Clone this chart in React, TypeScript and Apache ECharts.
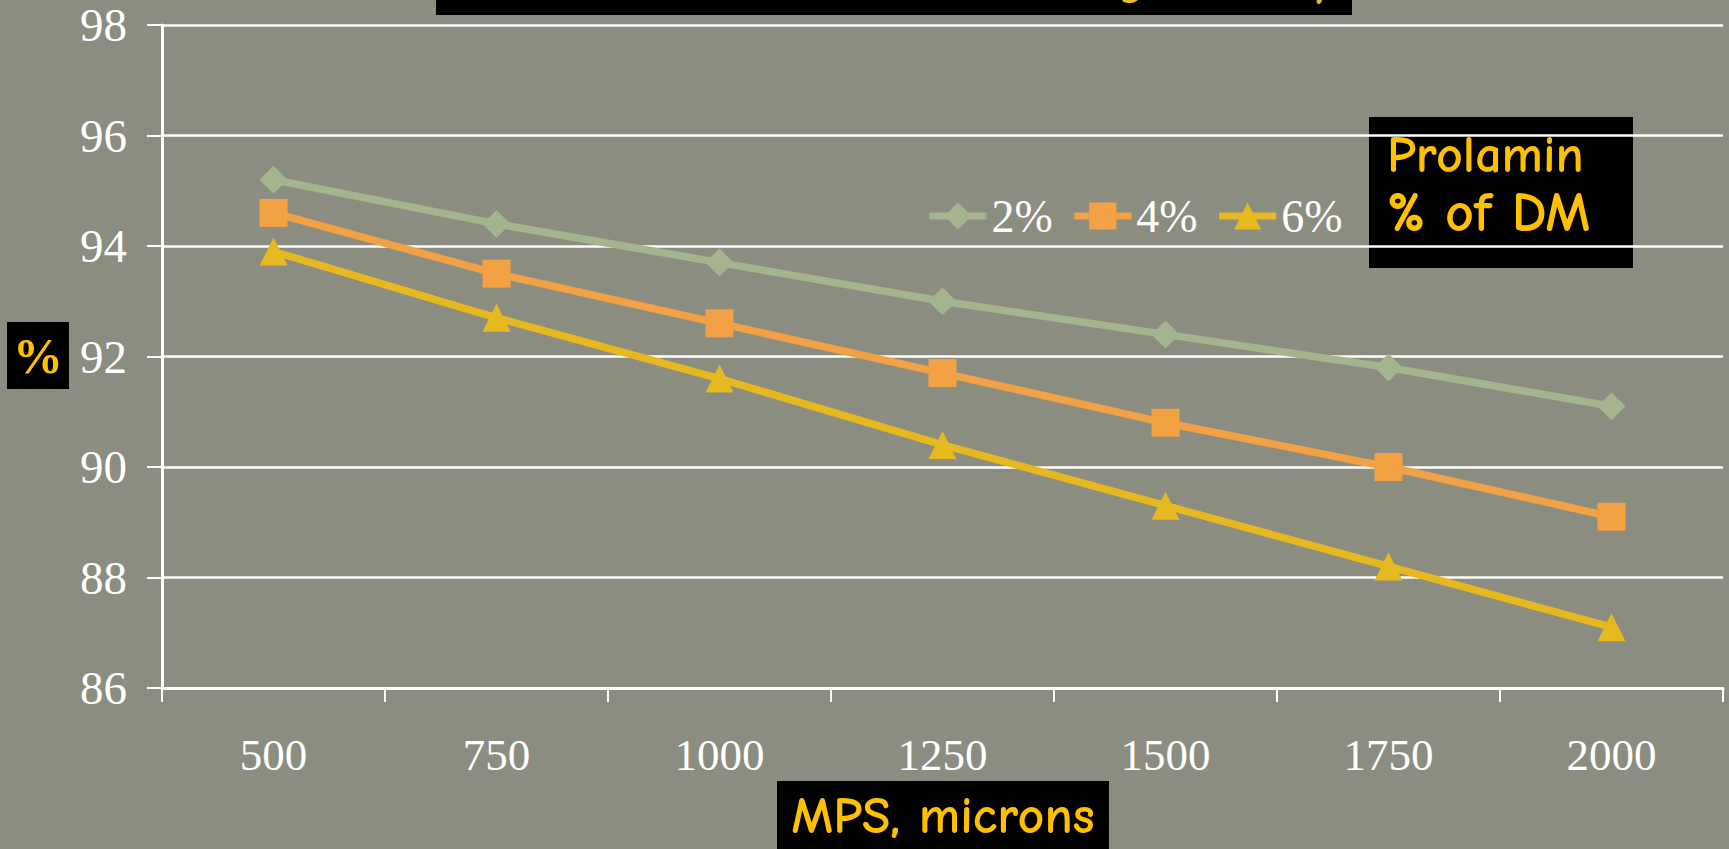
import React, { useEffect, useRef } from 'react';
import * as echarts from 'echarts';

const categories = ['500', '750', '1000', '1250', '1500', '1750', '2000'];
const seriesNames = ['2%', '4%', '6%'];
const values2 = [95.2, 94.4, 93.7, 93.0, 92.4, 91.8, 91.1];
const values4 = [94.6, 93.5, 92.6, 91.7, 90.8, 90.0, 89.1];
const values6 = [93.9, 92.7, 91.6, 90.4, 89.3, 88.2, 87.1];
const yMin = 86;
const yMax = 98;
const yStep = 2;

const titleText = 'Ruminal Starch Degradability';
const legendBoxLines = ['Prolamin', '% of DM'];
const xName = 'MPS, microns';
const yName = '%';

const BG = '#8a8d80';
const GOLD = '#ffc000';
const SERIF = '"Liberation Serif", "DejaVu Serif", serif';
const COMIC = '"Comic Sans MS", "Comic Neue", "Noto Sans", sans-serif';
const colors = ['#a3b48e', '#f2a145', '#e6b921'];
const symbols = ['diamond', 'rect', 'triangle'];

export default function App() {
  const ref = useRef<HTMLDivElement>(null);
  useEffect(() => {
    const chart = echarts.init(ref.current!, null, { renderer: 'svg' });
    const dataSets = [values2, values4, values6];
    chart.setOption({
      animation: false,
      backgroundColor: BG,
      grid: { left: 162, right: 6, top: 25, bottom: 161, containLabel: false },
      legend: {
        data: seriesNames,
        left: 921,
        top: 188,
        itemWidth: 57,
        itemHeight: 34,
        itemGap: 18,
        lineStyle: { width: 7 },
        textStyle: { color: '#ffffff', fontSize: 46, fontFamily: SERIF },
      },
      xAxis: {
        type: 'category',
        data: categories,
        boundaryGap: true,
        axisLine: { show: true, lineStyle: { color: '#ffffff', width: 3 } },
        axisTick: { show: true, length: 14, lineStyle: { color: '#ffffff', width: 2 } },
        axisLabel: { color: '#ffffff', fontSize: 45, fontFamily: SERIF, margin: 44 },
        splitLine: { show: false },
      },
      yAxis: {
        type: 'value',
        min: yMin,
        max: yMax,
        interval: yStep,
        axisLine: { show: true, lineStyle: { color: '#ffffff', width: 3 } },
        axisTick: { show: true, length: 15, lineStyle: { color: '#ffffff', width: 2 } },
        axisLabel: { color: '#ffffff', fontSize: 47, fontFamily: SERIF, margin: 35, padding: [18, 0, 0, 0] },
        splitLine: { show: true, lineStyle: { color: '#ffffff', width: 2.5 } },
      },
      series: seriesNames.map((name, i) => ({
        name,
        type: 'line',
        data: dataSets[i],
        symbol: symbols[i],
        symbolSize: 28,
        showSymbol: true,
        lineStyle: { color: colors[i], width: 7.5 },
        itemStyle: { color: colors[i] },
        z: 3 + i,
      })),
      graphic: [
        {
          type: 'group',
          z: 100,
          children: [
            { type: 'rect', shape: { x: 436, y: 0, width: 916, height: 15 }, style: { fill: '#000000' } },
            {
              type: 'text',
              x: 1334,
              y: -21,
              style: {
                text: titleText,
                fill: '#e9bc2a',
                fontSize: 48,
                fontWeight: 'bold',
                fontFamily: COMIC,
                textAlign: 'right',
                textVerticalAlign: 'middle',
              },
            },
          ],
        },
        {
          type: 'group',
          z: 100,
          children: [
            { type: 'rect', shape: { x: 1369, y: 117, width: 264, height: 151 }, style: { fill: '#000000' } },
            {
              type: 'text',
              x: 1387,
              y: 155,
              style: { text: legendBoxLines[0], fill: GOLD, fontSize: 52, fontWeight: 'bold', fontFamily: COMIC, textAlign: 'left', textVerticalAlign: 'middle' },
            },
            {
              type: 'text',
              x: 1387,
              y: 213,
              style: { text: legendBoxLines[1], fill: GOLD, fontSize: 56, fontWeight: 'bold', fontFamily: COMIC, textAlign: 'left', textVerticalAlign: 'middle' },
            },
          ],
        },
        {
          type: 'group',
          z: 100,
          children: [
            { type: 'rect', shape: { x: 777, y: 781, width: 332, height: 70 }, style: { fill: '#000000' } },
            {
              type: 'text',
              x: 943,
              y: 816,
              style: { text: xName, fill: GOLD, fontSize: 52, fontWeight: 'bold', fontFamily: COMIC, textAlign: 'center', textVerticalAlign: 'middle' },
            },
          ],
        },
        {
          type: 'group',
          z: 100,
          children: [
            { type: 'rect', shape: { x: 7, y: 322, width: 62, height: 67 }, style: { fill: '#000000' } },
            {
              type: 'text',
              x: 38,
              y: 356,
              style: { text: yName, fill: GOLD, fontSize: 50, fontWeight: 'bold', fontFamily: SERIF, textAlign: 'center', textVerticalAlign: 'middle' },
            },
          ],
        },
      ],
    });
    return () => chart.dispose();
  }, []);
  return <div ref={ref} style={{ position: 'fixed', left: 0, top: 0, width: 1729, height: 849 }} />;
}
